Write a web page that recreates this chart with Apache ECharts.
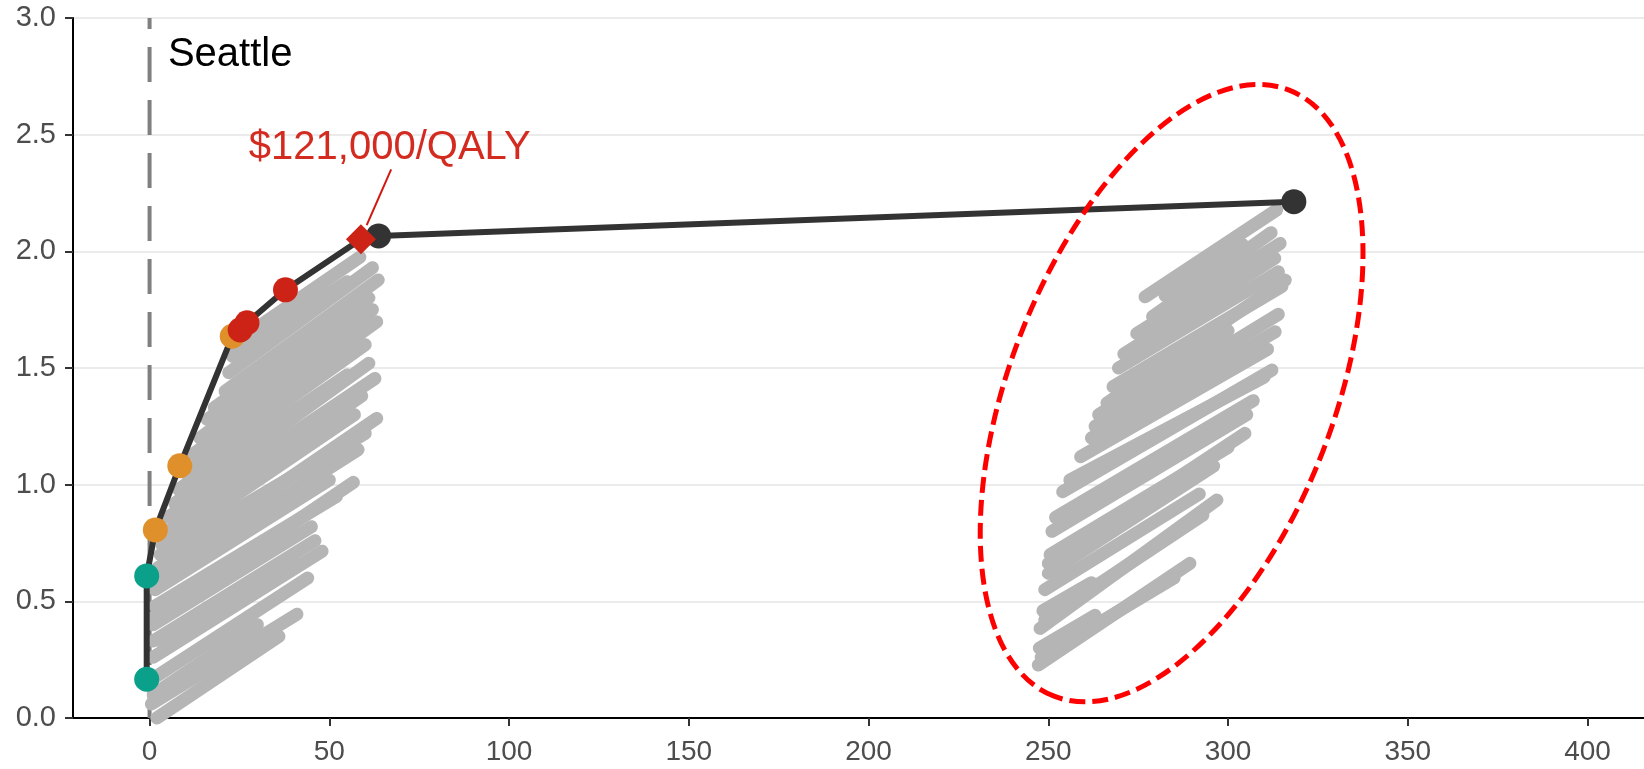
<!DOCTYPE html>
<html><head><meta charset="utf-8">
<script src="https://cdn.jsdelivr.net/npm/echarts@6/dist/echarts.min.js"></script>
<style>html,body{margin:0;padding:0;background:#fff}#c{width:1644px;height:769px}</style>
</head><body><div id="c"></div>
<script>
// ---- data (cost in $1000s on x, QALYs on y) ----
const frontierCost = [-0.8, -0.8, 1.6, 8.4, 23.0, 25.2, 27.1, 37.8, 58.8, 63.7, 318.3];
const frontierQaly = [0.166, 0.609, 0.806, 1.081, 1.636, 1.663, 1.694, 1.835, 2.052, 2.066, 2.213];
const frontierGroup = ['teal','teal','orange','orange','orange','red','red','red','diamond','black','black'];

// PSA streaks, left cloud: start (x0,y0) -> end (x1,y1)
const leftX0 = [0.5, 2, 1, 1, 1, 3, 1, 1, 1, 1.5, 1.5, 2, 2, 3, 3.5, 5, 5, 7, 8, 10, 12, 14, 16, 18, 21, 22, 23, 23];
const leftY0 = [0.06, 0.0, 0.10, 0.17, 0.26, 0.33, 0.33, 0.40, 0.43, 0.48, 0.55, 0.60, 0.64, 0.70, 0.74, 0.80, 0.86, 0.92, 0.98, 1.05, 1.13, 1.20, 1.28, 1.33, 1.40, 1.48, 1.55, 1.60];
const leftX1 = [41, 36, 30, 44, 48, 40, 46, 45, 56.7, 52, 50, 58, 63.2, 60, 57, 59, 62.7, 61, 55, 60, 63.2, 62, 57, 61, 63.6, 62, 55, 58.5];
const leftY1 = [0.445, 0.35, 0.40, 0.60, 0.715, 0.67, 0.76, 0.82, 1.01, 0.95, 1.02, 1.15, 1.284, 1.22, 1.30, 1.38, 1.455, 1.52, 1.47, 1.60, 1.698, 1.75, 1.70, 1.80, 1.877, 1.93, 1.87, 1.975];

// PSA streaks, right cloud
const rightX0 = [247.2, 248, 247.5, 247.7, 249, 248.5, 249, 250, 250, 250.5, 251, 252, 254, 256, 259, 262, 263, 264, 266.3, 268, 269.5, 271, 274.6, 279, 282.5, 276.9];
const rightY0 = [0.227, 0.26, 0.30, 0.384, 0.42, 0.46, 0.55, 0.62, 0.663, 0.70, 0.80, 0.86, 0.97, 1.02, 1.12, 1.20, 1.25, 1.30, 1.35, 1.42, 1.50, 1.56, 1.648, 1.72, 1.81, 1.805];
const rightX1 = [289.4, 285, 263, 296.9, 293, 262, 292, 296, 304.7, 300, 305.2, 307, 312.2, 310, 311, 313.1, 314, 300, 315.9, 315, 314, 313, 314.5, 312, 304, 313.5];
const rightY1 = [0.663, 0.60, 0.44, 0.934, 0.87, 0.58, 0.96, 1.08, 1.22, 1.16, 1.30, 1.36, 1.491, 1.46, 1.58, 1.655, 1.73, 1.66, 1.877, 1.85, 1.912, 1.97, 2.034, 2.08, 2.03, 2.177];

const xTicks = [0, 50, 100, 150, 200, 250, 300, 350, 400];
const yTicks = [0, 0.5, 1.0, 1.5, 2.0, 2.5, 3.0];
const refLineX = 0;
const labelTexts = ['Seattle', '$121,000/QALY'];
const labelX = [5.1, 66.8];
const labelY = [2.84, 2.442];
const arrowX = [67.2, 60.4];
const arrowY = [2.351, 2.112];
const ellipseCenter = [284.3, 1.392];

// ---- build ----
const FONT = '"Liberation Sans", Arial, sans-serif';
const colors = {teal:'#0AA08A', orange:'#E0902B', red:'#CC2316', diamond:'#CC2316', black:'#333333'};
const streakData = leftX0.map((x, i) => [x, leftY0[i], leftX1[i], leftY1[i]])
  .concat(rightX0.map((x, i) => [x, rightY0[i], rightX1[i], rightY1[i]]));
const frontierData = frontierCost.map((x, i) => [x, frontierQaly[i]]);
function groupPts(g){ return frontierCost.map((x,i)=>[x, frontierQaly[i], frontierGroup[i]]).filter(d=>d[2]===g).map(d=>[d[0],d[1]]); }

const chart = echarts.init(document.getElementById('c'), null, {renderer:'canvas'});
chart.setOption({
  animation: false,
  backgroundColor: '#fff',
  grid: {left: 73, right: 0, top: 18, bottom: 51, containLabel: false, outerBoundsMode: 'none'},
  xAxis: {
    type: 'value', min: -21.3, max: 415.7,
    axisLine: {onZero: false, lineStyle: {color: '#000', width: 2}},
    axisTick: {show: true, length: 8, customValues: xTicks, lineStyle: {color: '#333', width: 2}},
    axisLabel: {customValues: xTicks, color: '#4d4d4d', fontSize: 28, fontFamily: FONT, margin: 20},
    splitLine: {show: false}
  },
  yAxis: {
    type: 'value', min: 0, max: 3, interval: 0.5,
    axisLine: {show: true, onZero: false, lineStyle: {color: '#000', width: 2}},
    axisTick: {show: true, length: 8, lineStyle: {color: '#333', width: 2}},
    axisLabel: {color: '#4d4d4d', fontSize: 29, fontFamily: FONT, margin: 17, formatter: v => v.toFixed(1)},
    splitLine: {show: true, lineStyle: {color: '#ebebeb', width: 2}}
  },
  series: [
    {
      type: 'line', data: [[refLineX, 0], [refLineX, 3]], symbol: 'none', silent: true, z: 1,
      lineStyle: {color: '#808080', width: 4, type: [35, 18]}
    },
    {
      type: 'custom', data: streakData, encode: {x: [0, 2], y: [1, 3]}, z: 2, silent: true,
      renderItem: (params, api) => {
        const p0 = api.coord([api.value(0), api.value(1)]);
        const p1 = api.coord([api.value(2), api.value(3)]);
        return {type: 'line', shape: {x1: p0[0], y1: p0[1], x2: p1[0], y2: p1[1]},
                style: {stroke: '#b5b5b5', lineWidth: 13, lineCap: 'round'}};
      }
    },
    {
      type: 'line', data: frontierData, symbol: 'none', z: 3, silent: true,
      lineStyle: {color: '#333333', width: 6}
    },
    {type: 'scatter', data: groupPts('teal'), symbol: 'circle', symbolSize: 25, itemStyle: {color: colors.teal, opacity: 1}, z: 4},
    {type: 'scatter', data: groupPts('orange'), symbol: 'circle', symbolSize: 25, itemStyle: {color: colors.orange, opacity: 1}, z: 4},
    {type: 'scatter', data: groupPts('black'), symbol: 'circle', symbolSize: 25, itemStyle: {color: colors.black, opacity: 1}, z: 4},
    {type: 'scatter', data: groupPts('red'), symbol: 'circle', symbolSize: 25, itemStyle: {color: colors.red, opacity: 1}, z: 5},
    {type: 'scatter', data: groupPts('diamond'), symbol: 'diamond', symbolSize: 30, itemStyle: {color: colors.diamond, opacity: 1}, z: 6},
    {
      type: 'line', data: arrowX.map((x, i) => [x, arrowY[i]]), symbol: 'none', z: 7, silent: true,
      lineStyle: {color: '#D01810', width: 2}
    },
    {
      type: 'custom', data: labelX.map((x, i) => [x, labelY[i], i]), z: 8, silent: true,
      renderItem: (params, api) => {
        const i = params.dataIndex;
        const p = api.coord([api.value(0), api.value(1)]);
        return {type: 'text', x: p[0], y: p[1],
          style: {text: labelTexts[i], fill: i === 0 ? '#000' : '#D42B20',
                  font: '40px ' + FONT, align: i === 0 ? 'left' : 'center', verticalAlign: 'middle'}};
      }
    },
    {
      type: 'custom', data: [ellipseCenter], z: 9, silent: true,
      renderItem: (params, api) => {
        const p = api.coord([api.value(0), api.value(1)]);
        return {type: 'ellipse', x: p[0], y: p[1], rotation: 68.8 * Math.PI / 180,
          shape: {cx: 0, cy: 0, rx: 325, ry: 162},
          style: {fill: 'none', stroke: '#FF0000', lineWidth: 5, lineDash: [16, 7]}};
      }
    }
  ]
});
</script></body></html>
